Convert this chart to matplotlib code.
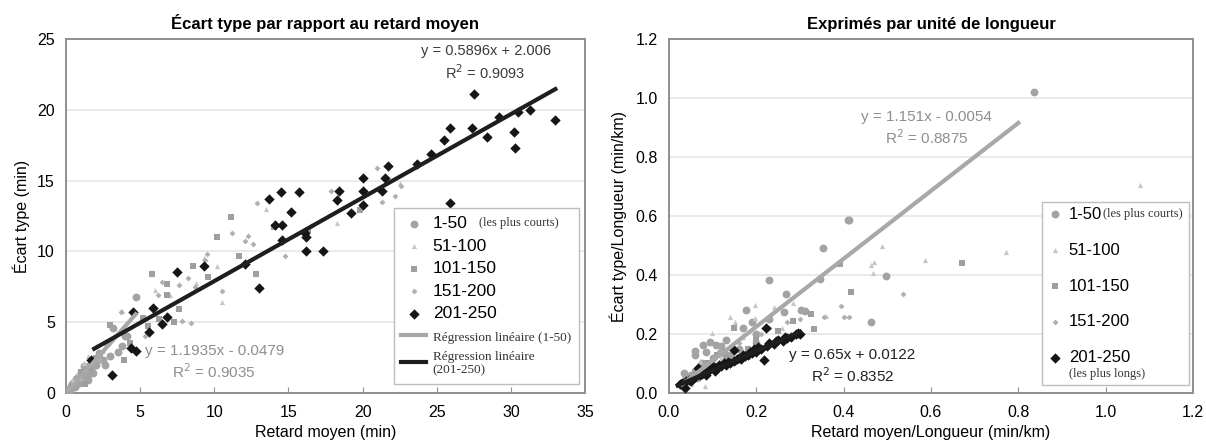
"""
deux nuages de points : ecart type vs retard moyen, et la meme chose par km
"""

import numpy as np
import matplotlib.pyplot as plt
from matplotlib.patches import Rectangle

plt.rcParams['font.family'] = ['Liberation Sans', 'DejaVu Sans']

# ---- panneau gauche : minutes ----
l_g1_x = [0.1, 0.2, 0.3, 0.35, 0.4, 0.5, 0.55, 0.6, 0.7, 0.75, 0.8, 0.9, 1.0, 1.05, 1.1, 1.2, 1.3, 1.4, 1.5, 1.6,
          1.7, 1.8, 2.0, 2.2, 2.5, 2.8, 3.0, 3.2, 3.5, 4.0, 4.7, 0.9, 1.2, 1.5, 0.6, 1.8, 2.3, 3.8, 2.6, 4.1]
l_g1_y = [0.1, 0.3, 0.2, 0.5, 0.6, 0.4, 0.8, 0.7, 1.0, 0.6, 1.1, 0.9, 1.3, 1.0, 1.5, 1.2, 1.6, 1.8, 1.3, 2.0,
          1.7, 2.2, 2.0, 2.8, 2.3, 3.5, 2.6, 4.6, 2.9, 4.0, 6.8, 0.7, 1.9, 0.9, 0.4, 1.4, 2.4, 3.3, 2.0, 4.0]
l_g2_x = [10.5, 10.2, 18.3, 6.0, 3.8, 2.0, 1.2, 0.8, 1.5, 0.5, 2.5, 7.0, 8.8, 13.5, 9.3, 22.5]
l_g2_y = [6.45, 9.0, 12.0, 7.3, 5.8, 3.3, 2.1, 1.5, 2.6, 0.9, 3.0, 6.9, 7.8, 13.0, 9.5, 14.8]
l_g3_x = [11.15, 10.2, 11.7, 9.6, 8.55, 12.8, 5.8, 6.8, 6.8, 7.6, 7.3, 3.0, 3.9, 19.8, 14.0, 5.5, 4.3, 2.0, 1.6,
          1.0, 5.2, 6.3, 1.3, 16.3]
l_g3_y = [12.4, 11.0, 9.7, 8.2, 9.0, 8.4, 8.4, 7.7, 6.9, 5.9, 5.0, 4.8, 2.3, 12.9, 11.7, 4.7, 3.5, 2.5, 1.8,
          1.5, 5.3, 5.2, 0.6, 11.5]
l_g4_x = [21.0, 22.6, 22.2, 21.3, 17.9, 12.9, 11.2, 12.1, 12.3, 12.6, 14.8, 10.5, 9.5, 9.4, 8.2, 8.4, 7.6, 6.5,
          3.7, 5.3, 7.8, 8.7, 6.2, 2.2, 1.0, 14.5, 16.5]
l_g4_y = [15.9, 14.6, 13.9, 13.5, 14.3, 13.4, 11.3, 10.7, 11.1, 10.5, 9.65, 7.2, 9.85, 9.4, 8.1, 4.95, 7.6, 7.85,
          5.75, 4.0, 5.1, 7.5, 6.9, 2.4, 1.0, 10.9, 11.8]
l_g5_x = [33.0, 27.5, 30.5, 31.3, 29.2, 30.2, 30.3, 28.4, 27.4, 25.9, 25.5, 24.6, 23.7, 21.7, 21.5, 21.3, 20.0,
          20.0, 20.0, 18.4, 18.3, 19.2, 17.3, 16.2, 16.2, 16.1, 15.7, 14.5, 13.7, 15.2, 14.1, 14.6, 14.6, 12.1,
          13.0, 9.3, 7.5, 6.8, 6.5, 5.9, 5.6, 4.5, 4.4, 4.7, 3.1, 1.7, 25.9]
l_g5_y = [19.3, 21.1, 19.85, 19.96, 19.5, 18.4, 17.3, 18.1, 18.7, 18.7, 17.9, 16.9, 16.2, 16.0, 15.2, 14.3, 15.2,
          14.3, 13.3, 14.3, 13.6, 12.7, 10.0, 10.0, 11.0, 11.3, 14.2, 14.2, 13.7, 12.8, 11.9, 11.9, 10.8, 9.1,
          7.45, 9.0, 8.55, 5.4, 4.9, 6.0, 4.3, 5.7, 3.2, 3.0, 1.3, 2.35, 13.4]

# ---- panneau droit : par km ----
r_g1_x = [0.836, 0.409, 0.413, 0.353, 0.497, 0.229, 0.347, 0.267, 0.462, 0.176, 0.170, 0.093, 0.059, 0.108, 0.034,
          0.264, 0.302, 0.312, 0.12, 0.14, 0.075, 0.05, 0.10, 0.13, 0.16, 0.085, 0.045, 0.20, 0.11, 0.065, 0.15,
          0.19, 0.23, 0.125, 0.2, 0.117, 0.078, 0.06, 0.04]
r_g1_y = [1.021, 0.588, 0.585, 0.493, 0.397, 0.382, 0.385, 0.334, 0.240, 0.281, 0.219, 0.174, 0.143, 0.163, 0.067,
          0.276, 0.281, 0.278, 0.16, 0.13, 0.10, 0.06, 0.12, 0.18, 0.15, 0.14, 0.04, 0.20, 0.09, 0.05, 0.11,
          0.24, 0.25, 0.14, 0.17, 0.136, 0.163, 0.129, 0.055]
r_g2_x = [1.079, 0.771, 0.587, 0.488, 0.47, 0.462, 0.467, 0.196, 0.139, 0.152, 0.196, 0.099, 0.258, 0.285, 0.083,
          0.24, 0.36, 0.12, 0.07, 0.17, 0.05]
r_g2_y = [0.705, 0.478, 0.45, 0.50, 0.444, 0.433, 0.408, 0.298, 0.259, 0.242, 0.253, 0.202, 0.222, 0.306, 0.022,
          0.29, 0.26, 0.12, 0.11, 0.19, 0.03]
r_g3_x = [0.672, 0.416, 0.391, 0.333, 0.325, 0.283, 0.150, 0.13, 0.09, 0.2, 0.25, 0.06, 0.18, 0.11]
r_g3_y = [0.439, 0.343, 0.436, 0.217, 0.267, 0.244, 0.219, 0.12, 0.10, 0.18, 0.21, 0.07, 0.15, 0.13]
r_g4_x = [0.535, 0.395, 0.401, 0.413, 0.355, 0.27, 0.16, 0.21, 0.12, 0.08, 0.23, 0.3]
r_g4_y = [0.337, 0.296, 0.259, 0.259, 0.259, 0.24, 0.17, 0.20, 0.14, 0.09, 0.22, 0.25]
r_g5_x = [0.025, 0.03, 0.037, 0.04, 0.045, 0.05, 0.055, 0.06, 0.065, 0.067, 0.07, 0.075, 0.08, 0.085, 0.09, 0.095,
          0.10, 0.105, 0.11, 0.115, 0.12, 0.125, 0.13, 0.135, 0.14, 0.148, 0.15, 0.155, 0.16, 0.165, 0.17, 0.175,
          0.18, 0.185, 0.19, 0.195, 0.20, 0.205, 0.21, 0.218, 0.223, 0.225, 0.23, 0.24, 0.245, 0.25, 0.26, 0.265,
          0.27, 0.28, 0.29, 0.295, 0.30]
r_g5_y = [0.03, 0.035, 0.017, 0.04, 0.045, 0.04, 0.05, 0.055, 0.06, 0.085, 0.06, 0.065, 0.07, 0.06, 0.075, 0.08,
          0.09, 0.075, 0.085, 0.095, 0.09, 0.10, 0.095, 0.105, 0.10, 0.146, 0.11, 0.115, 0.12, 0.115, 0.13, 0.125,
          0.13, 0.14, 0.135, 0.15, 0.14, 0.155, 0.15, 0.112, 0.219, 0.16, 0.17, 0.165, 0.175, 0.18, 0.175, 0.19,
          0.185, 0.19, 0.2, 0.205, 0.2]

# regressions (pente, ordonnee, x debut, x fin)
l_fit1 = (1.1935, -0.0479, 0.0, 4.7)
l_fit5 = (0.5896, 2.006, 1.9, 33.0)
r_fit1 = (1.151, -0.0054, 0.03, 0.8)
r_fit5 = (0.65, 0.0122, 0.02, 0.3)

labels = ['1-50', '51-100', '101-150', '151-200', '201-250']
markers = ['o', '^', 's', 'D', 'D']
sizes = [32, 14, 24, 9, 28]
colors = ['#a3a3a3', '#c6c6c6', '#9e9e9e', '#b0b0b0', '#161616']
grey_line = '#a8a8a8'
black_line = '#1e1e1e'


def fit_line(fit):
    a, b, x0, x1 = fit
    xs = np.array([x0, x1])
    return xs, a * xs + b


def style_axes(ax, xmax, xstep, ymax, ystep, fmt):
    ax.set_xlim(0, xmax)
    ax.set_ylim(0, ymax)
    ax.set_xticks(np.arange(0, xmax + xstep / 2, xstep))
    ax.set_yticks(np.arange(0, ymax + ystep / 2, ystep))
    ax.xaxis.set_major_formatter(fmt)
    ax.yaxis.set_major_formatter(fmt)
    ax.grid(axis='y', color='#e6e6e6', lw=1.2, zorder=0)
    ax.set_axisbelow(True)
    for s in ax.spines.values():
        s.set_color('#8f8f8f')
        s.set_linewidth(1.4)
    ax.tick_params(axis='x', direction='in', length=4, color='#8f8f8f', labelsize=11.5, pad=9)
    ax.tick_params(axis='y', length=0, labelsize=11.5, pad=8)


def serif_note(ax, txt, anchor, xy, offset, va):
    # petit texte a cote d'une etiquette de legende (dessine apres la legende)
    ax.annotate(txt, xy=xy, xycoords=anchor, xytext=offset, textcoords='offset points', va=va, ha='left',
                fontsize=9, family='Liberation Serif', color='#333333', zorder=8)


fig = plt.figure(figsize=(12.06, 4.43), dpi=100)
ax1 = fig.add_axes([0.0547, 0.1129, 0.4304, 0.799])
ax2 = fig.add_axes([0.5547, 0.1129, 0.4345, 0.799])

# gauche
left_x = [l_g1_x, l_g2_x, l_g3_x, l_g4_x, l_g5_x]
left_y = [l_g1_y, l_g2_y, l_g3_y, l_g4_y, l_g5_y]
for i in range(5):
    ax1.scatter(left_x[i], left_y[i], marker=markers[i], s=sizes[i], c=colors[i], lw=0, zorder=3, label=labels[i])
xs, ys = fit_line(l_fit1)
ax1.plot(xs, ys, color=grey_line, lw=3, zorder=4, label='Régression linéaire (1-50)')
xs, ys = fit_line(l_fit5)
ax1.plot(xs, ys, color=black_line, lw=3, zorder=4, label='Régression linéaire\n(201-250)')

style_axes(ax1, 35, 5, 25, 5, plt.FormatStrFormatter('%d'))
ax1.set_title('Écart type par rapport au retard moyen', fontsize=12, fontweight='bold', pad=7)
ax1.set_xlabel('Retard moyen (min)', fontsize=11.5, labelpad=3)
ax1.set_ylabel('Écart type (min)', fontsize=11.5, labelpad=5)
ax1.text(28.3, 22.0, 'y = 0.5896x + 2.006\nR$^2$ = 0.9093', ha='center', va='bottom', fontsize=10.5,
         color='#3a3a3a', linespacing=1.3)
ax1.text(10.0, 0.85, 'y = 1.1935x - 0.0479\nR$^2$ = 0.9035', ha='center', va='bottom', fontsize=11,
         color='#8e8e8e', linespacing=1.3)

leg1 = ax1.legend(loc='lower right', bbox_to_anchor=(0.988, 0.024), borderaxespad=0, fontsize=12.5, frameon=True,
                  fancybox=False, edgecolor='#bdbdbd', framealpha=1, handlelength=1.4, handletextpad=0.4,
                  labelspacing=0.42, borderpad=0.45)
for t in leg1.get_texts()[5:]:
    t.set_fontfamily('Liberation Serif')
    t.set_fontsize(9.5)
    t.set_color('#333333')
serif_note(ax1, '(les plus courts)', leg1.get_texts()[0], (1, 0.55), (8, 0), 'center')

# droite
right_x = [r_g1_x, r_g2_x, r_g3_x, r_g4_x, r_g5_x]
right_y = [r_g1_y, r_g2_y, r_g3_y, r_g4_y, r_g5_y]
for i in range(5):
    ax2.scatter(right_x[i], right_y[i], marker=markers[i], s=sizes[i], c=colors[i], lw=0, zorder=3,
                label=labels[i])
xs, ys = fit_line(r_fit1)
ax2.plot(xs, ys, color=grey_line, lw=3, zorder=4)
xs, ys = fit_line(r_fit5)
ax2.plot(xs, ys, color=black_line, lw=3, zorder=4)

style_axes(ax2, 1.2, 0.2, 1.2, 0.2, plt.FormatStrFormatter('%.1f'))
ax2.set_title('Exprimés par unité de longueur', fontsize=12, fontweight='bold', pad=7)
ax2.set_xlabel('Retard moyen/Longueur (min/km)', fontsize=11.5, labelpad=3)
ax2.set_ylabel('Écart type/Longueur (min/km)', fontsize=11.5, labelpad=6)
ax2.text(0.59, 0.834, 'y = 1.151x - 0.0054\nR$^2$ = 0.8875', ha='center', va='bottom', fontsize=11,
         color='#8e8e8e', linespacing=1.3)
ax2.text(0.42, 0.027, 'y = 0.65x + 0.0122\nR$^2$ = 0.8352', ha='center', va='bottom', fontsize=11,
         color='#222222', linespacing=1.3)

# cadre de legende elargi (texte en plus a droite et en dessous)
ax2.add_patch(Rectangle((0.712, 0.023), 0.28, 0.517, transform=ax2.transAxes, facecolor='white',
                        edgecolor='#bdbdbd', lw=1, zorder=5.5))
leg2 = ax2.legend(loc='upper left', bbox_to_anchor=(0.712, 0.54), borderaxespad=0, fontsize=12, frameon=False,
                  handlelength=0.9, handletextpad=0.4, labelspacing=1.25, borderpad=0.3)
leg2.set_zorder(6)
serif_note(ax2, '(les plus courts)', leg2.get_texts()[0], (1, 0.55), (1, 0), 'center')
serif_note(ax2, '(les plus longs)', leg2.get_texts()[4], (0, 0), (0, -2), 'top')

fig.savefig('out.png', dpi=100)
